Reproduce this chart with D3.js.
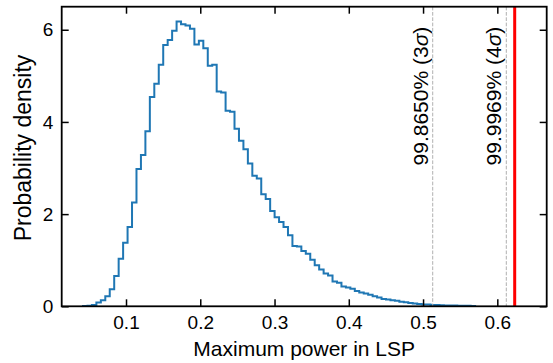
<!DOCTYPE html>
<html>
<head>
<meta charset="utf-8">
<script src="https://cdn.jsdelivr.net/npm/d3@7"></script>
<style>
  body { margin: 0; background: #fff; }
  text { font-family: "Liberation Sans", Arial, sans-serif; fill: #000; }
</style>
</head>
<body>
<svg id="lsp_chart" width="553" height="363"></svg>
<script>
// histogram of the maximum LSP power (density), regular bins
const bin_start = 0.0421;
const bin_width = 0.006;
const density = [
  0.005, 0.01, 0.03, 0.08, 0.13, 0.22, 0.37, 0.66, 1.03, 1.38,
  1.72, 2.25, 2.98, 3.28, 3.80, 4.54, 4.83, 5.24, 5.67, 5.78,
  5.98, 6.18, 6.12, 6.09, 6.02, 5.68, 5.76, 5.60, 5.22, 5.24,
  4.66, 4.64, 4.24, 4.22, 3.85, 3.59, 3.41, 3.10, 2.83, 2.77,
  2.43, 2.33, 2.07, 1.93, 1.83, 1.72, 1.54, 1.31, 1.30, 1.20,
  1.14, 1.01, 0.89, 0.80, 0.71, 0.67, 0.54, 0.51, 0.43, 0.41,
  0.38, 0.33, 0.30, 0.28, 0.25, 0.22, 0.19, 0.16, 0.15, 0.13,
  0.12, 0.10, 0.09, 0.07, 0.06, 0.05, 0.04, 0.04, 0.03, 0.03,
  0.025, 0.02, 0.02, 0.015, 0.01, 0.01, 0.01, 0.005
];
const threshold_labels = ["99.8650% (3", "99.9969% (4"];
const threshold_power = [0.5130, 0.6121];
const observed_power = 0.6234;
const x_ticks = [0.1, 0.2, 0.3, 0.4, 0.5, 0.6];
const y_ticks = [0, 2, 4, 6];

const svg = d3.select("svg#lsp_chart");
const margin = { left: 61.7, right: 6.3, top: 6.7, bottom: 56.7 };
const width = svg.attr("width") - margin.left - margin.right;
const height = svg.attr("height") - margin.top - margin.bottom;
const tick_len = 7;

const x = d3.scaleLinear([0.0134, 0.6665], [0, width]);
const y = d3.scaleLinear([0, 6.5], [height, 0]);

const chart = svg.append("g")
  .attr("transform", `translate(${margin.left}, ${margin.top})`);

// step outline of the histogram
let steps = [{ x: bin_start, v: 0 }];
density.forEach((d, i) => {
  steps.push({ x: bin_start + i * bin_width, v: d });
});
steps.push({ x: bin_start + density.length * bin_width, v: 0 });

const step_line = d3.line()
  .x(d => x(d.x))
  .y(d => y(d.v))
  .curve(d3.curveStepAfter);

chart.append("path")
  .datum(steps)
  .attr("d", step_line)
  .attr("fill", "none")
  .attr("stroke", "#1f77b4")
  .attr("stroke-width", 2);

// significance thresholds
chart.selectAll("line.threshold")
  .data(threshold_power)
  .join("line")
  .attr("class", "threshold")
  .attr("x1", d => x(d))
  .attr("x2", d => x(d))
  .attr("y1", 0)
  .attr("y2", height)
  .attr("stroke", "#b0b0b0")
  .attr("stroke-width", 1)
  .attr("stroke-dasharray", "3.7,1.6");

const labels = chart.selectAll("text.threshold_label")
  .data(threshold_power)
  .join("text")
  .attr("class", "threshold_label")
  .attr("transform", d => `translate(${x(d) - 5}, 20) rotate(-90)`)
  .attr("text-anchor", "end")
  .style("font-size", "21px");
labels.append("tspan").text((d, i) => threshold_labels[i]);
labels.append("tspan").style("font-style", "italic").text("\u03c3");
labels.append("tspan").text(")");

// observed maximum
chart.append("line")
  .attr("x1", x(observed_power))
  .attr("x2", x(observed_power))
  .attr("y1", 0)
  .attr("y2", height)
  .attr("stroke", "red")
  .attr("stroke-width", 3);

// axes, ticks pointing in on all four sides
const x_axis = chart.append("g")
  .attr("transform", `translate(0, ${height})`)
  .call(d3.axisBottom(x).tickValues(x_ticks).tickSize(-tick_len).tickPadding(9)
    .tickFormat(d3.format(".1f")));
const y_axis = chart.append("g")
  .call(d3.axisLeft(y).tickValues(y_ticks).tickSize(-tick_len).tickPadding(8.4)
    .tickFormat(d3.format("d")));
const top_axis = chart.append("g")
  .call(d3.axisTop(x).tickValues(x_ticks).tickSize(-tick_len).tickFormat(""));
const right_axis = chart.append("g")
  .attr("transform", `translate(${width}, 0)`)
  .call(d3.axisRight(y).tickValues(y_ticks).tickSize(-tick_len).tickFormat(""));

[x_axis, y_axis, top_axis, right_axis].forEach(a => {
  a.select(".domain").remove();
  a.selectAll("line").attr("stroke", "#000").attr("stroke-width", 1.5);
  a.selectAll("text")
    .style("font-family", "'Liberation Sans', Arial, sans-serif")
    .style("font-size", "19px")
    .attr("fill", "#000");
});

chart.append("rect")
  .attr("width", width)
  .attr("height", height)
  .attr("fill", "none")
  .attr("stroke", "#000")
  .attr("stroke-width", 1.8);

chart.append("text")
  .attr("x", width / 2)
  .attr("y", height + 50)
  .attr("text-anchor", "middle")
  .style("font-size", "21px")
  .text("Maximum power in LSP");

chart.append("text")
  .attr("transform", `translate(${30.7 - margin.left}, ${148 - margin.top}) rotate(-90)`)
  .attr("text-anchor", "middle")
  .style("font-size", "23px")
  .text("Probability density");
</script>
</body>
</html>
